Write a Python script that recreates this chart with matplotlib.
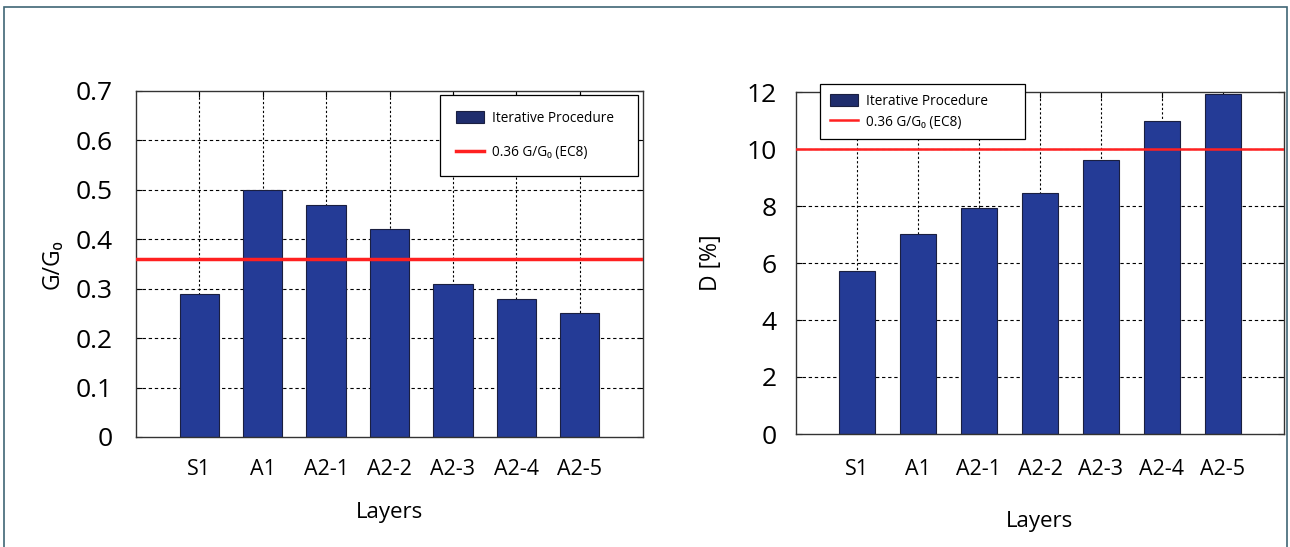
import matplotlib
matplotlib.use("Agg")
import matplotlib.pyplot as plt
from matplotlib.patches import Rectangle

plt.rcParams['font.family'] = ['Open Sans', 'DejaVu Sans']

layers = ["S1", "A1", "A2-1", "A2-2", "A2-3", "A2-4", "A2-5"]
g_ratio = [0.29, 0.50, 0.47, 0.42, 0.31, 0.28, 0.25]
damping = [5.72, 7.03, 7.93, 8.47, 9.6, 10.98, 11.93]
g_ref = 0.36
d_ref = 10.0
g_ticks = [0, 0.1, 0.2, 0.3, 0.4, 0.5, 0.6, 0.7]
g_ticklabels = ["0", "0.1", "0.2", "0.3", "0.4", "0.5", "0.6", "0.7"]
d_ticks = [0, 2, 4, 6, 8, 10, 12]

bar_col = "#243b96"
red = "#ff2020"

fig = plt.figure(figsize=(12.9, 5.47), dpi=100)
fig.patches.append(Rectangle((4 / 1290, -0.05), 1283 / 1290, 1.05 - 7 / 547,
                             transform=fig.transFigure, fill=False,
                             edgecolor="#3f6676", lw=1.2))

ax1 = fig.add_axes([136 / 1290, 1 - 437 / 547, 507 / 1290, 346 / 547])
ax2 = fig.add_axes([796 / 1290, 1 - 434 / 547, 488 / 1290, 342 / 547])

pos = list(range(1, len(layers) + 1))


def style(ax, ticks, ticklabels, ylab, ypad, xpad, labpad):
    ax.set_xlim(0, 8)
    ax.set_ylim(ticks[0], ticks[-1])
    ax.set_xticks(pos)
    ax.set_xticklabels(layers, fontsize=15.5)
    ax.set_yticks(ticks)
    ax.set_yticklabels(ticklabels, fontsize=19)
    ax.tick_params(axis="y", direction="in", length=4, pad=ypad, right=True)
    ax.tick_params(axis="x", direction="in", length=4, pad=xpad, top=True)
    for y in ticks[1:-1]:
        ax.axhline(y, color="black", lw=0.8, ls=(0, (3, 2.5)), zorder=0.5)
    for x in pos:
        ax.axvline(x, color="black", lw=0.8, ls=(0, (2, 2)), zorder=0.5)
    for s in ax.spines.values():
        s.set_color("#333333")
        s.set_linewidth(1.0)
    ax.set_xlabel("Layers", fontsize=16, labelpad=labpad)
    ax.set_ylabel(ylab, fontsize=16.5)


def legend(ax, handles, box, spacing, pad):
    x0, y0, x1, y1 = box
    leg = ax.legend(handles=handles, loc="upper left", mode="expand",
                    bbox_to_anchor=(x0 / 1290, 1 - y1 / 547, (x1 - x0) / 1290, (y1 - y0) / 547),
                    bbox_transform=fig.transFigure, fontsize=9.8, frameon=True,
                    fancybox=False, edgecolor="black", framealpha=1,
                    labelspacing=spacing, borderpad=pad, handlelength=2.1,
                    handleheight=1.0, handletextpad=0.6, borderaxespad=0)
    leg.get_frame().set_linewidth(0.9)
    leg.set_zorder(5)
    leg.legend_handles[0].set_facecolor("#1f2d6d")
    return leg


# left: G/G0
bars1 = ax1.bar(pos, g_ratio, width=0.62, color=bar_col, edgecolor="#1a1f40",
                lw=0.8, zorder=2, label="Iterative Procedure")
ln1 = ax1.axhline(g_ref, color=red, lw=2.5, zorder=3, label="0.36 G/G₀ (EC8)")
style(ax1, g_ticks, g_ticklabels, "G/G₀", 17, 16, 16)
ax1.yaxis.set_label_coords(-0.14, 0.5)
legend(ax1, [bars1, ln1], (440, 95, 638, 184), 1.45, 1.15)

# right: D
bars2 = ax2.bar(pos, damping, width=0.6, color=bar_col, edgecolor="#1a1f40",
                lw=0.8, zorder=2, label="Iterative Procedure")
ln2 = ax2.axhline(d_ref, color=red, lw=1.8, zorder=3, label="0.36 G/G₀ (EC8)")
style(ax2, d_ticks, [str(t) for t in d_ticks], "D [%]", 14, 18, 22)
ax2.yaxis.set_label_coords(-0.15, 0.5)
legend(ax2, [bars2, ln2], (820, 84, 1025, 144), 0.45, 0.7)

fig.savefig("out.png", dpi=100)
